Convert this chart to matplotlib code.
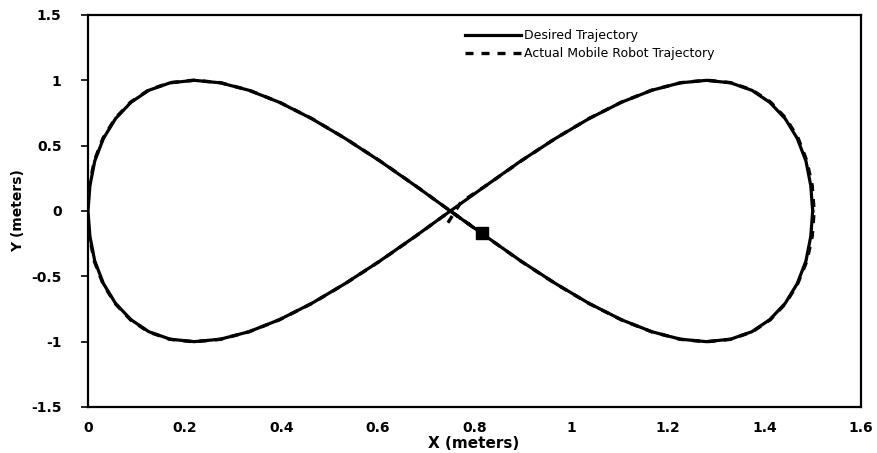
import numpy as np
from matplotlib import pyplot as plt

# Desired trajectory, points (figure eight)
desired_x = [1.500, 1.496, 1.486, 1.468, 1.443, 1.411, 1.374, 1.330, 1.280, 1.226,
	1.167, 1.104, 1.037, 0.968, 0.896, 0.824, 0.750, 0.677, 0.604, 0.532,
	0.463, 0.396, 0.333, 0.274, 0.220, 0.170, 0.126, 0.089, 0.057, 0.032,
	0.014, 0.004, 0.000, 0.004, 0.014, 0.032, 0.057, 0.089, 0.126, 0.170,
	0.220, 0.274, 0.333, 0.396, 0.463, 0.532, 0.604, 0.677, 0.750, 0.824,
	0.896, 0.968, 1.037, 1.104, 1.167, 1.226, 1.280, 1.330, 1.374, 1.411,
	1.443, 1.468, 1.486, 1.496, 1.500]
desired_y = [0.000, 0.195, 0.383, 0.556, 0.707, 0.832, 0.924, 0.981, 1.000, 0.981,
	0.924, 0.832, 0.707, 0.556, 0.383, 0.195, 0.000, -0.195, -0.383, -0.556,
	-0.707, -0.832, -0.924, -0.981, -1.000, -0.981, -0.924, -0.832, -0.707, -0.556,
	-0.383, -0.195, 0.000, 0.195, 0.383, 0.556, 0.707, 0.832, 0.924, 0.981,
	1.000, 0.981, 0.924, 0.832, 0.707, 0.556, 0.383, 0.195, 0.000, -0.195,
	-0.383, -0.556, -0.707, -0.832, -0.924, -0.981, -1.000, -0.981, -0.924, -0.832,
	-0.707, -0.556, -0.383, -0.195, 0.000]

# Actual robot path, starts a bit below the crossing and then sits on the desired one
actual_x = [0.745, 0.772, 0.825, 0.897, 0.968, 1.037, 1.104, 1.167, 1.227, 1.281,
	1.331, 1.375, 1.413, 1.445, 1.470, 1.488, 1.499, 1.503, 1.499, 1.488,
	1.469, 1.444, 1.412, 1.375, 1.330, 1.280, 1.226, 1.167, 1.104, 1.037,
	0.968, 0.896, 0.824, 0.750, 0.677, 0.604, 0.532, 0.463, 0.396, 0.333,
	0.274, 0.219, 0.169, 0.125, 0.088, 0.056, 0.031, 0.013, 0.003, -0.002,
	0.003, 0.013, 0.031, 0.056, 0.088, 0.125, 0.169, 0.219, 0.274, 0.333,
	0.396, 0.463, 0.532, 0.604, 0.677, 0.750, 0.815]
actual_y = [-0.090, 0.068, 0.197, 0.384, 0.557, 0.708, 0.833, 0.925, 0.982, 1.001,
	0.982, 0.925, 0.833, 0.708, 0.556, 0.383, 0.195, 0.000, -0.195, -0.383,
	-0.556, -0.708, -0.833, -0.925, -0.982, -1.001, -0.982, -0.925, -0.833, -0.708,
	-0.557, -0.384, -0.196, 0.000, 0.196, 0.384, 0.557, 0.708, 0.833, 0.925,
	0.982, 1.001, 0.982, 0.925, 0.833, 0.708, 0.557, 0.384, 0.196, 0.000,
	-0.196, -0.384, -0.557, -0.708, -0.833, -0.925, -0.982, -1.001, -0.982, -0.925,
	-0.833, -0.708, -0.557, -0.384, -0.196, 0.000, -0.170]

robot_x = [0.815]
robot_y = [-0.170]

x_ticks = [0, 0.2, 0.4, 0.6, 0.8, 1, 1.2, 1.4, 1.6]
y_ticks = [-1.5, -1, -0.5, 0, 0.5, 1, 1.5]


def fmt(v):
	return str(int(v)) if v == int(v) else str(v)


plt.rcParams['font.family'] = ['DejaVu Sans']

fig = plt.figure(figsize=(8.77, 4.53), dpi=100)
ax = fig.add_axes([88 / 877, 1 - 407 / 453, (861 - 88) / 877, (407 - 15) / 453])

ax.plot(actual_x, actual_y, color='black', lw=2.4, ls=(0, (2.4, 2.4)),
	label='Actual Mobile Robot Trajectory', zorder=2)
ax.plot(desired_x, desired_y, color='black', lw=2.3, label='Desired Trajectory', zorder=3)
ax.plot(robot_x, robot_y, 's', color='black', ms=9, zorder=4)

ax.set_xlim(0, 1.6)
ax.set_ylim(-1.5, 1.5)
ax.set_xticks(x_ticks)
ax.set_yticks(y_ticks)
ax.set_xticklabels([fmt(t) for t in x_ticks], fontsize=10, fontweight='bold')
ax.set_yticklabels([fmt(t) for t in y_ticks], fontsize=10, fontweight='bold')
ax.tick_params(axis='x', length=0, pad=10)
ax.tick_params(axis='y', length=5, width=1.2, pad=14)
for sp in ax.spines.values():
	sp.set_linewidth(1.6)

fig.text(474 / 877, 1 - 443 / 453, 'X (meters)', ha='center', va='center',
	fontsize=11, fontweight='bold')
fig.text(18 / 877, 1 - 211 / 453, 'Y (meters)', ha='center', va='center',
	rotation=90, fontsize=10, fontweight='bold')

handles, labels = ax.get_legend_handles_labels()
ax.legend(handles[::-1], labels[::-1], loc='upper left',
	bbox_to_anchor=(465 / 877, 1 - 29 / 453), bbox_transform=fig.transFigure,
	frameon=False, fontsize=9, handlelength=4.5, handletextpad=0.24,
	labelspacing=0.42, borderpad=0, borderaxespad=0)

fig.savefig('out.png', dpi=100)
